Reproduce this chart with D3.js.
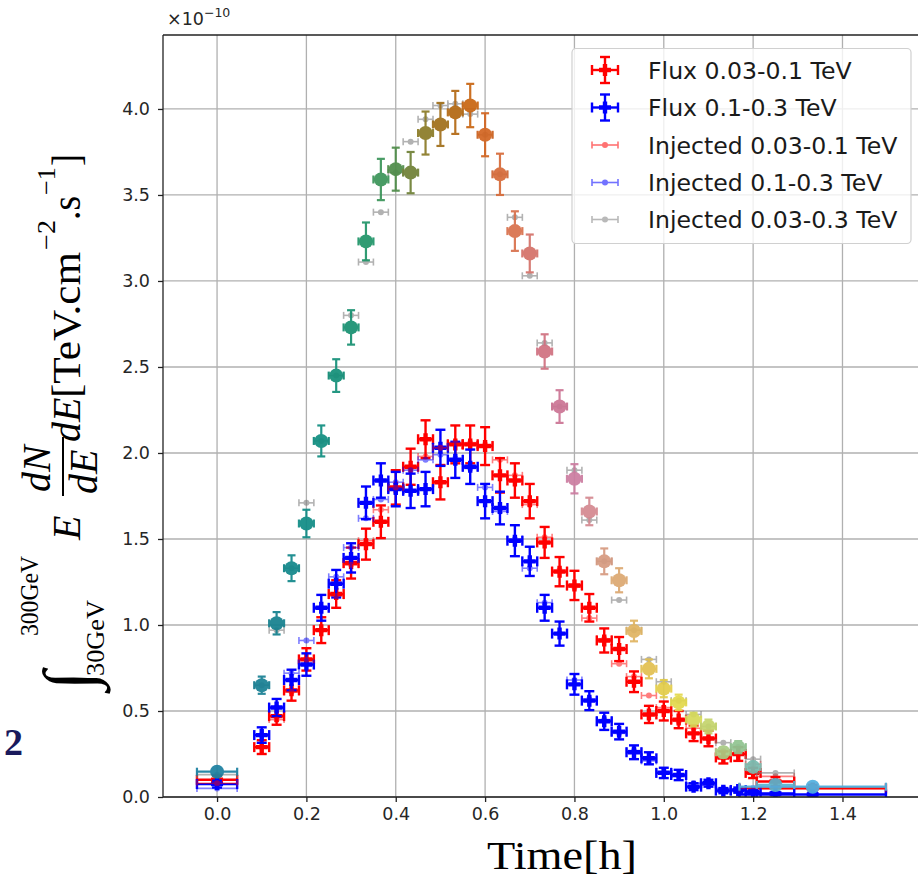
<!DOCTYPE html>
<html><head><meta charset="utf-8">
<script src="https://cdn.jsdelivr.net/npm/d3@7"></script>
<style>body{margin:0;background:#fff;overflow:hidden}</style>
</head><body><svg id="c" width="918" height="883" xmlns="http://www.w3.org/2000/svg"></svg>
<script>
// ---------------- DATA ----------------
const times = [0, 0.1, 0.1333, 0.1667, 0.2, 0.2333, 0.2667, 0.3, 0.3333, 0.3667, 0.4, 0.4333, 0.4667, 0.5, 0.5333, 0.5667, 0.6, 0.6333, 0.6667, 0.7, 0.7333, 0.7667, 0.8, 0.8333, 0.8667, 0.9, 0.9333, 0.9667, 1.0, 1.0333, 1.0667, 1.1, 1.1333, 1.1667, 1.2, 1.25, 1.3333];
const timeErr = [0.045, 0.0167, 0.0167, 0.0167, 0.0167, 0.0167, 0.0167, 0.0167, 0.0167, 0.0167, 0.0167, 0.0167, 0.0167, 0.0167, 0.0167, 0.0167, 0.0167, 0.0167, 0.0167, 0.0167, 0.0167, 0.0167, 0.0167, 0.0167, 0.0167, 0.0167, 0.0167, 0.0167, 0.0167, 0.0167, 0.0167, 0.0167, 0.0167, 0.0167, 0.0167, 0.042, 0.164];

const fluxLow = [0.10, 0.29, 0.47, 0.62, 0.80, 0.97, 1.18, 1.36, 1.47, 1.60, 1.80, 1.92, 2.08, 1.83, 2.05, 2.05, 2.04, 1.87, 1.84, 1.72, 1.48, 1.31, 1.23, 1.10, 0.91, 0.86, 0.67, 0.48, 0.50, 0.45, 0.37, 0.34, 0.23, 0.25, 0.14, 0.09, 0.05];
const fluxLowErr = [0.025, 0.04, 0.05, 0.06, 0.065, 0.075, 0.08, 0.09, 0.09, 0.095, 0.10, 0.105, 0.11, 0.10, 0.11, 0.11, 0.11, 0.10, 0.10, 0.10, 0.09, 0.085, 0.085, 0.08, 0.07, 0.07, 0.06, 0.05, 0.055, 0.05, 0.045, 0.045, 0.035, 0.04, 0.03, 0.025, 0.02];

const fluxHigh = [0.075, 0.36, 0.52, 0.68, 0.77, 1.10, 1.24, 1.39, 1.71, 1.84, 1.79, 1.78, 1.79, 2.03, 1.96, 1.92, 1.72, 1.68, 1.49, 1.37, 1.10, 0.95, 0.655, 0.56, 0.44, 0.38, 0.26, 0.225, 0.14, 0.128, 0.06, 0.08, 0.037, 0.04, 0.03, 0.02, 0.015];
const fluxHighErr = [0.02, 0.045, 0.05, 0.06, 0.065, 0.075, 0.08, 0.085, 0.095, 0.10, 0.10, 0.10, 0.10, 0.105, 0.105, 0.10, 0.10, 0.095, 0.09, 0.085, 0.075, 0.07, 0.06, 0.055, 0.05, 0.045, 0.04, 0.035, 0.03, 0.03, 0.02, 0.02, 0.015, 0.015, 0.012, 0.01, 0.01];

const injLow = [0.08, 0.29, 0.45, 0.61, 0.80, 0.97, 1.17, 1.35, 1.49, 1.67, 1.80, 1.91, 1.98, 2.03, 2.06, 2.06, 2.05, 1.96, 1.87, 1.70, 1.51, 1.32, 1.22, 1.04, 0.92, 0.775, 0.70, 0.59, 0.52, 0.44, 0.40, 0.34, 0.266, 0.25, 0.19, 0.12, 0.05];
const injHigh = [0.05, 0.36, 0.52, 0.72, 0.91, 1.10, 1.28, 1.45, 1.62, 1.73, 1.83, 1.90, 1.96, 1.99, 1.97, 1.91, 1.80, 1.66, 1.50, 1.33, 1.13, 0.95, 0.68, 0.57, 0.45, 0.37, 0.27, 0.21, 0.15, 0.12, 0.08, 0.07, 0.05, 0.04, 0.03, 0.02, 0.01];
const injTotal = [0.13, 0.65, 0.97, 1.33, 1.71, 2.07, 2.45, 2.80, 3.11, 3.40, 3.63, 3.81, 3.94, 4.02, 4.03, 3.97, 3.85, 3.62, 3.37, 3.03, 2.64, 2.27, 1.90, 1.61, 1.37, 1.145, 0.97, 0.80, 0.67, 0.56, 0.48, 0.41, 0.316, 0.29, 0.22, 0.14, 0.06];

const fluxTotal = [0.147, 0.65, 1.01, 1.33, 1.59, 2.07, 2.45, 2.73, 3.23, 3.59, 3.65, 3.63, 3.86, 3.91, 3.98, 4.02, 3.85, 3.62, 3.29, 3.16, 2.59, 2.27, 1.85, 1.66, 1.37, 1.26, 0.965, 0.745, 0.63, 0.55, 0.45, 0.41, 0.26, 0.29, 0.175, 0.07, 0.06];
const fluxTotalErr = [0.025, 0.05, 0.065, 0.075, 0.08, 0.09, 0.095, 0.10, 0.11, 0.12, 0.125, 0.12, 0.125, 0.125, 0.125, 0.126, 0.125, 0.12, 0.115, 0.11, 0.10, 0.095, 0.085, 0.08, 0.075, 0.07, 0.06, 0.055, 0.05, 0.045, 0.04, 0.04, 0.03, 0.035, 0.025, 0.015, 0.01];
const fluxTotalColors = ["#1b7fa0", "#177f93", "#14808e", "#11878a", "#0f8b85", "#0f8e80", "#128f78", "#169070", "#1f9468", "#3a9458", "#4e8c48", "#6e8035", "#8a7a25", "#a06e18", "#b36812", "#c86410", "#d26420", "#d66a38", "#d8704c", "#d47068", "#d07080", "#cc7494", "#cc7ca0", "#d48890", "#d69a80", "#dca870", "#e0b460", "#e2c050", "#e3cd48", "#e2d84a", "#d6da58", "#c4d46c", "#a8cc84", "#90c490", "#78bcb0", "#5ab4cc", "#50b0e0"];

const xTicks = [0.0, 0.2, 0.4, 0.6, 0.8, 1.0, 1.2, 1.4];
const yTicks = [0.0, 0.5, 1.0, 1.5, 2.0, 2.5, 3.0, 3.5, 4.0];
const legendLabels = ["Flux 0.03-0.1 TeV", "Flux 0.1-0.3 TeV", "Injected 0.03-0.1 TeV", "Injected 0.1-0.3 TeV", "Injected 0.03-0.3 TeV"];
const legendColors = ["#ff0000", "#0000ff", "#ff0000", "#0000ff", "#808080"];

// ---------------- LAYOUT ----------------
const svg = d3.select("#c");
svg.append("rect").attr("width", 918).attr("height", 883).attr("fill", "#fff");
const L = 163, T = 35, B = 797, R = 922;
const x = d3.scaleLinear().domain([-0.121, 1.578]).range([L, R]);
const y = d3.scaleLinear().domain([0, 4.43]).range([B, T]);

svg.append("clipPath").attr("id", "clip").append("rect")
  .attr("x", L).attr("y", T).attr("width", R - L).attr("height", B - T);

// grid
const grid = svg.append("g").attr("stroke", "#b0b0b0").attr("stroke-width", 1.3);
xTicks.forEach(t => grid.append("line").attr("x1", x(t)).attr("x2", x(t)).attr("y1", T).attr("y2", B));
yTicks.forEach(v => grid.append("line").attr("x1", L).attr("x2", R).attr("y1", y(v)).attr("y2", y(v)));

// axes with d3
const tickFont = "'DejaVu Sans', sans-serif";
const xAxis = svg.append("g").attr("transform", `translate(0,${B})`)
  .call(d3.axisBottom(x).tickValues(xTicks).tickFormat(d3.format(".1f")).tickSize(5).tickPadding(6));
const yAxis = svg.append("g").attr("transform", `translate(${L},0)`)
  .call(d3.axisLeft(y).tickValues(yTicks).tickFormat(d3.format(".1f")).tickSize(5).tickPadding(8));
[xAxis, yAxis].forEach(a => {
  a.select(".domain").remove();
  a.selectAll(".tick line").attr("stroke", "#222").attr("stroke-width", 1.3);
  a.selectAll(".tick text").attr("font-family", tickFont).attr("font-size", 17.5).attr("fill", "#262626");
});

// data series
const plot = svg.append("g").attr("clip-path", "url(#clip)");
function pts(vals, errs) {
  return times.map((t, i) => ({ t, v: vals[i], ye: errs ? errs[i] : 0, xe: timeErr[i], i }));
}
function plusPath(cx, cy, s, w) {
  return `M${cx - w},${cy - s}h${2 * w}v${s - w}h${s - w}v${2 * w}h${-(s - w)}v${s - w}h${-2 * w}v${-(s - w)}h${-(s - w)}v${-2 * w}h${s - w}z`;
}
function errbars(g, data, o) {
  const gg = g.append("g").attr("opacity", o.opacity || 1);
  data.forEach(d => {
    const c = o.colorFn ? o.colorFn(d) : o.color;
    const cx = x(d.t), cy = y(d.v);
    const x0 = x(d.t - d.xe), x1 = x(d.t + d.xe);
    gg.append("line").attr("x1", x0).attr("x2", x1).attr("y1", cy).attr("y2", cy).attr("stroke", c).attr("stroke-width", o.lw);
    [x0, x1].forEach(xx => gg.append("line").attr("x1", xx).attr("x2", xx).attr("y1", cy - o.capX).attr("y2", cy + o.capX).attr("stroke", c).attr("stroke-width", o.lw));
    if (d.ye > 0) {
      const y0 = y(d.v - d.ye), y1 = y(d.v + d.ye);
      gg.append("line").attr("x1", cx).attr("x2", cx).attr("y1", y0).attr("y2", y1).attr("stroke", c).attr("stroke-width", o.lw);
      [y0, y1].forEach(yy => gg.append("line").attr("x1", cx - o.capY).attr("x2", cx + o.capY).attr("y1", yy).attr("y2", yy).attr("stroke", c).attr("stroke-width", o.lw));
    }
    if (o.marker === "plus") {
      gg.append("path").attr("fill", c).attr("d", plusPath(cx, cy, o.ms, o.mw));
    } else if (o.marker === "circle") {
      gg.append("circle").attr("cx", cx).attr("cy", cy).attr("r", o.ms).attr("fill", c);
    }
  });
}
errbars(plot, pts(fluxLow, fluxLowErr), { color: "#ff0000", lw: 2.4, capX: 5, capY: 5, marker: "plus", ms: 6, mw: 2.2 });
errbars(plot, pts(fluxHigh, fluxHighErr), { color: "#0000ff", lw: 2.4, capX: 5, capY: 5, marker: "plus", ms: 6, mw: 2.2 });
errbars(plot, pts(injLow), { color: "#ff0000", lw: 1.6, capX: 3.5, capY: 3.5, marker: "circle", ms: 3, opacity: 0.5 });
errbars(plot, pts(injHigh), { color: "#0000ff", lw: 1.6, capX: 3.5, capY: 3.5, marker: "circle", ms: 3, opacity: 0.5 });
errbars(plot, pts(injTotal), { color: "#808080", lw: 1.6, capX: 3.5, capY: 3.5, marker: "circle", ms: 3, opacity: 0.6 });
errbars(plot, pts(fluxTotal, fluxTotalErr), { colorFn: d => fluxTotalColors[d.i], lw: 2.2, capX: 4, capY: 4, marker: "circle", ms: 7, opacity: 0.92 });

// spines (left, top, bottom; right is outside window)
const sp = svg.append("g").attr("stroke", "#222").attr("stroke-width", 1.3).attr("fill", "none");
sp.append("line").attr("x1", L).attr("x2", L).attr("y1", T).attr("y2", B);
sp.append("line").attr("x1", L).attr("x2", R).attr("y1", T).attr("y2", T);
sp.append("line").attr("x1", L).attr("x2", R).attr("y1", B).attr("y2", B);

// offset text
const off = svg.append("text").attr("x", 167).attr("y", 25).attr("font-family", tickFont).attr("font-size", 17.5).attr("fill", "#262626");
off.append("tspan").text("×10");
off.append("tspan").attr("dy", -8).attr("font-size", 12.5).text("−10");

// legend
const lg = svg.append("g");
lg.append("rect").attr("x", 572).attr("y", 48.5).attr("width", 339).attr("height", 195).attr("rx", 4)
  .attr("fill", "#fff").attr("fill-opacity", 0.8).attr("stroke", "#d0d0d0").attr("stroke-width", 1.2);
const ly = [70, 107.5, 145, 182.5, 219.5];
legendLabels.forEach((lab, i) => {
  const c = legendColors[i], cy = ly[i], x0 = 592, x1 = 618, cx = 605;
  const h = lg.append("g").attr("opacity", i < 2 ? 1 : 0.55);
  const lw = i < 2 ? 2.4 : 1.6, cap = i < 2 ? 5 : 3.5;
  h.append("line").attr("x1", x0).attr("x2", x1).attr("y1", cy).attr("y2", cy).attr("stroke", c).attr("stroke-width", lw);
  [x0, x1].forEach(xx => h.append("line").attr("x1", xx).attr("x2", xx).attr("y1", cy - cap).attr("y2", cy + cap).attr("stroke", c).attr("stroke-width", lw));
  if (i < 2) {
    h.append("line").attr("x1", cx).attr("x2", cx).attr("y1", cy - 13).attr("y2", cy + 13).attr("stroke", c).attr("stroke-width", lw);
    [cy - 13, cy + 13].forEach(yy => h.append("line").attr("x1", cx - 5).attr("x2", cx + 5).attr("y1", yy).attr("y2", yy).attr("stroke", c).attr("stroke-width", lw));
    h.append("path").attr("fill", c).attr("d", plusPath(cx, cy, 6, 2.2));
  } else {
    h.append("circle").attr("cx", cx).attr("cy", cy).attr("r", 3).attr("fill", c);
  }
  lg.append("text").attr("x", 648).attr("y", cy + 8.5).attr("font-family", tickFont).attr("font-size", 23.6).attr("fill", "#1a1a1a").text(lab);
});

// x label
svg.append("text").attr("x", 562).attr("y", 869).attr("text-anchor", "middle")
  .attr("font-family", "'Liberation Serif', 'DejaVu Serif', serif").attr("font-size", 40).attr("fill", "#000")
  .attr("textLength", 150).attr("lengthAdjust", "spacingAndGlyphs").text("Time[h]");

// stray glyph at left edge (cropped from neighbouring figure)
svg.append("text").attr("x", 4).attr("y", 755).attr("font-family", "'Liberation Serif', serif").attr("font-size", 38)
  .attr("font-weight", "bold").attr("fill", "#1a1a5c").text("2");

// y label (rotated math)
const serif = "'Liberation Serif', 'DejaVu Serif', serif";
const yl = svg.append("g").attr("transform", "rotate(-90)").attr("font-family", serif).attr("fill", "#000");
function yt(str, along, base, size, opts = {}) {
  const t = yl.append("text").attr("x", -along).attr("y", base).attr("font-size", size).text(str);
  if (opts.len) t.attr("textLength", opts.len).attr("lengthAdjust", "spacingAndGlyphs");
  if (opts.italic) t.attr("font-style", "italic");
  return t;
}
yt("∫", 690, 92, 70);
yt("300GeV", 636, 38, 25, { len: 80 });
yt("30GeV", 676, 104, 25, { len: 76 });
yt("E", 540, 80, 40, { italic: true });
yt("dN", 492, 50, 40, { italic: true });
yt("dE", 494, 97, 40, { italic: true });
yl.append("line").attr("x1", -496).attr("x2", -437).attr("y1", 63).attr("y2", 63).attr("stroke", "#000").attr("stroke-width", 2);
yt("dE", 442, 80, 40, { italic: true });
yt("[TeV.cm", 398, 80, 40, { len: 146 });
yt("−2", 250, 55, 26, { len: 30 });
yt(".s", 220, 80, 40, { len: 24 });
yt("−1", 195, 55, 26, { len: 28 });
yt("]", 166, 80, 40, { len: 12 });
</script></body></html>
